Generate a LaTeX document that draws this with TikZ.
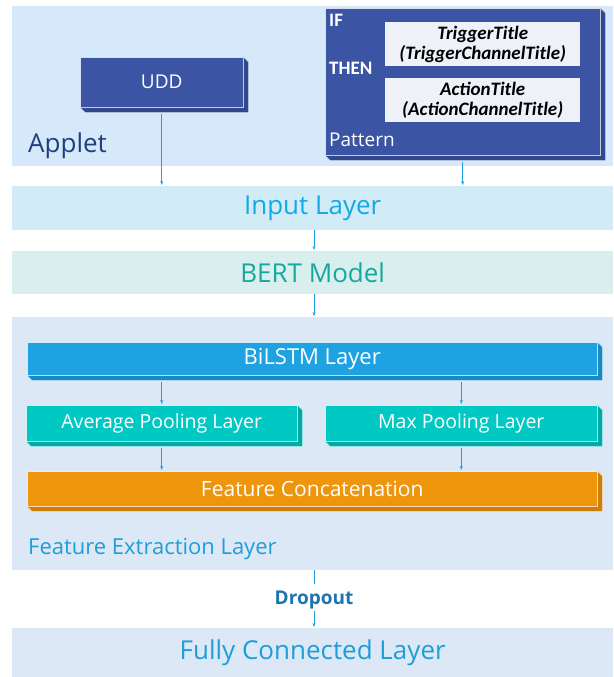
\documentclass[tikz,border=0pt]{standalone}
\usepackage{fontspec}
\setmainfont{Open Sans}
\newfontfamily\titlefont{Carlito}
\usetikzlibrary{arrows.meta,calc}
\definecolor{appletbg}{HTML}{D6E9FB}
\definecolor{appletfg}{HTML}{1F3F80}
\definecolor{deepblue}{HTML}{3B55A4}
\definecolor{inputbg}{HTML}{D1ECF7}
\definecolor{inputfg}{HTML}{12A9E5}
\definecolor{bertbg}{HTML}{D8EFEE}
\definecolor{bertfg}{HTML}{16A89E}
\definecolor{featbg}{HTML}{DCE8F6}
\definecolor{featfg}{HTML}{1E9ED9}
\definecolor{lstmblue}{HTML}{1EA2E2}
\definecolor{poolcyan}{HTML}{00C8C3}
\definecolor{concatorange}{HTML}{EF950C}
\definecolor{dropfg}{HTML}{1C74AD}
\definecolor{arrowblue}{HTML}{1E9FDF}
\definecolor{titlebg}{HTML}{EEF1F8}
% bevelled edge under and right of a slab node
\newcommand{\slabedge}[2]{%
  \filldraw[fill=#2!85!black,draw=white!80!#2,line width=0.5pt]
    (#1.north east) -- ++(5,5) -- ($(#1.south east)+(5,5)$) -- ($(#1.south west)+(5,5)$)
    -- (#1.south west) -- (#1.south east) -- cycle;}
\begin{document}
\begin{tikzpicture}[x=1pt,y=-1pt,
    band/.style={anchor=north west,inner sep=0pt,minimum width=601pt},
    slab/.style={anchor=north west,inner sep=0pt,draw=white!80!#1,line width=0.5pt,fill=#1,text=white},
    titlebox/.style={anchor=north west,inner sep=0pt,fill=titlebg,minimum width=195pt,minimum height=44pt,
      align=center,font=\titlefont\fontsize{19}{20}\selectfont\bfseries\itshape},
    arr/.style={draw=arrowblue,line width=0.6pt,-{Stealth[length=4pt,width=3pt]},shorten >=1pt}]
\useasboundingbox (0,0) rectangle (613,677);
% applet
\node[band,fill=appletbg,minimum height=160pt] (applet) at (12,6) {};
\node[anchor=west,text=appletfg,font=\fontsize{26}{30}\selectfont,inner sep=0pt] (applettxt) at (28,146) {Applet};
\node[slab=deepblue,minimum width=163pt,minimum height=50pt,font=\fontsize{19}{24}\selectfont] (udd) at (80,57) {UDD};
\slabedge{udd}{deepblue}
\node[slab=deepblue,minimum width=275pt,minimum height=147pt] (pattern) at (325,8) {};
\slabedge{pattern}{deepblue}
\node[anchor=west,text=white,font=\titlefont\fontsize{19}{20}\selectfont\bfseries,inner sep=0pt] (iftxt) at (329,20) {IF};
\node[anchor=west,text=white,font=\titlefont\fontsize{19}{20}\selectfont\bfseries,inner sep=0pt] (thentxt) at (329,68) {THEN};
\node[anchor=west,text=white,font=\fontsize{19}{22}\selectfont,inner sep=0pt] (patterntxt) at (329,140) {Pattern};
\node[titlebox] (trigger) at (385,22) {TriggerTitle\\(TriggerChannelTitle)};
\node[titlebox] (action) at (385,78) {ActionTitle\\(ActionChannelTitle)};
% layers
\node[band,fill=inputbg,minimum height=44pt,text=inputfg,font=\fontsize{26}{30}\selectfont] (input) at (12,186) {Input Layer};
\node[band,fill=bertbg,minimum height=43pt,text=bertfg,font=\fontsize{26}{30}\selectfont] (bert) at (12,251) {BERT Model};
\node[band,fill=featbg,minimum height=253pt] (feature) at (12,317) {};
\node[anchor=west,text=featfg,font=\fontsize{22}{25}\selectfont,inner sep=0pt] (featuretxt) at (28,549) {Feature Extraction Layer};
\node[slab=lstmblue,minimum width=570pt,minimum height=33pt,font=\fontsize{22}{26}\selectfont] (bilstm) at (27,342) {BiLSTM Layer};
\slabedge{bilstm}{lstmblue}
\node[slab=poolcyan,minimum width=271pt,minimum height=36pt,font=\fontsize{19.5}{24}\selectfont] (avgpool) at (26,405) {Average Pooling Layer};
\slabedge{avgpool}{poolcyan}
\node[slab=poolcyan,minimum width=272pt,minimum height=36pt,font=\fontsize{19.5}{24}\selectfont] (maxpool) at (325,405) {Max Pooling Layer};
\slabedge{maxpool}{poolcyan}
\node[slab=concatorange,minimum width=570pt,minimum height=35pt,font=\fontsize{21}{25}\selectfont] (concat) at (27,471) {Feature Concatenation};
\slabedge{concat}{concatorange}
\node[text=dropfg,font=\fontsize{19}{22}\selectfont\bfseries,inner sep=2pt] (dropout) at (314,600) {Dropout};
\node[band,fill=featbg,minimum height=49pt,text=featfg,font=\fontsize{26}{30}\selectfont] (fully) at (12,628) {Fully Connected Layer};
% connectors
\draw[arr] ($(udd.south)+(0,6)$) -- (udd.south |- input.north);
\draw[arr] ($(pattern.south)+(0,6)$) -- (pattern.south |- input.north);
\draw[arr] (input.south -| dropout) -- (bert.north -| dropout);
\draw[arr] (bert.south -| dropout) -- (feature.north -| dropout);
\draw[arr] ($(avgpool.north |- bilstm.south)+(0,6)$) -- (avgpool.north);
\draw[arr] ($(maxpool.north |- bilstm.south)+(0,6)$) -- (maxpool.north);
\draw[arr] ($(avgpool.south)+(0,6)$) -- (avgpool.south |- concat.north);
\draw[arr] ($(maxpool.south)+(0,6)$) -- (maxpool.south |- concat.north);
\draw[draw=arrowblue,line width=0.6pt] (feature.south -| dropout) -- ++(0,14);
\draw[arr] (dropout.south) -- (fully.north -| dropout);
\end{tikzpicture}
\end{document}
